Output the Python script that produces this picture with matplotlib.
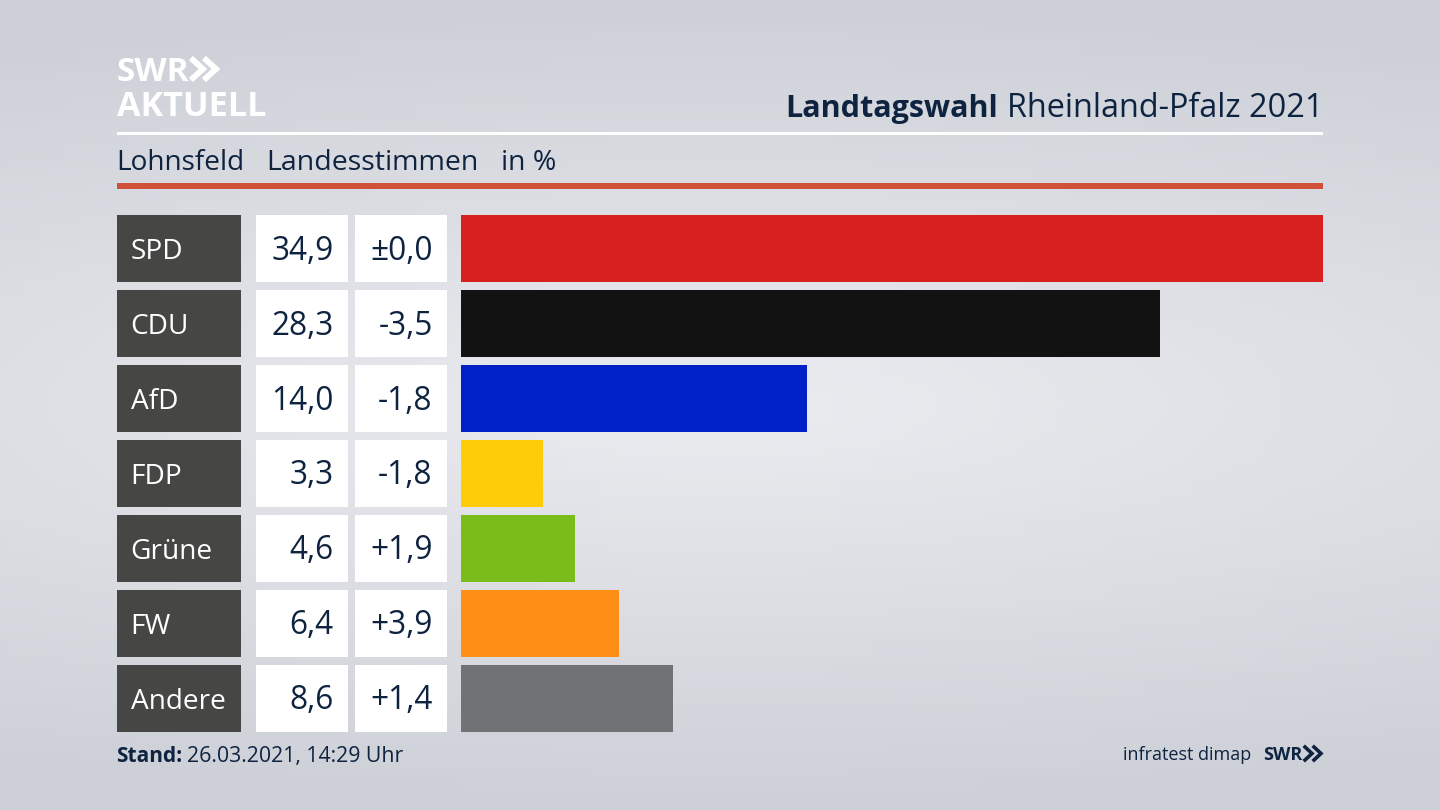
import matplotlib
matplotlib.use("Agg")
import matplotlib.pyplot as plt
from matplotlib.lines import Line2D
import numpy as np

# Datos
parteien = ["SPD", "CDU", "AfD", "FDP", "Grüne", "FW", "Andere"]
stimmen = [34.9, 28.3, 14.0, 3.3, 4.6, 6.4, 8.6]
stimmen_txt = ["34,9", "28,3", "14,0", "3,3", "4,6", "6,4", "8,6"]
diff_txt = ["±0,0", "-3,5", "-1,8", "-1,8", "+1,9", "+3,9", "+1,4"]
farben = ["#d7201f", "#121212", "#0020c8", "#ffcc08", "#7abd1a", "#ff8e14", "#717273"]

DUNKEL = "#0e2340"
W, H = 1440, 810
plt.rcParams["font.family"] = ["Open Sans", "DejaVu Sans"]


# Achse aus Pixelkoordinaten des Bildes
def achse(x0, y0, x1, y1):
    return fig.add_axes([x0 / W, 1 - y1 / H, (x1 - x0) / W, (y1 - y0) / H])


def txt(x, y, s, **kw):
    return fig.text(x / W, 1 - y / H, s, va="baseline", **kw)


# Doppelpfeil des Logos
def pfeile(x0, y0, y1, breite, abstand, farbe, lw):
    for k in range(2):
        x = x0 + k * abstand
        fig.add_artist(Line2D([x / W, (x + breite) / W, x / W],
                              [1 - y0 / H, 1 - (y0 + y1) / 2 / H, 1 - y1 / H],
                              color=farbe, lw=lw, solid_joinstyle="miter"))


def streifen(x0, y0, x1, y1, farbe):
    a = achse(x0, y0, x1, y1)
    a.set_facecolor(farbe)
    a.set_xticks([])
    a.set_yticks([])
    for s in a.spines.values():
        s.set_visible(False)


fig = plt.figure(figsize=(14.4, 8.1), dpi=100)

# Hintergrund mit Verlauf
bg = fig.add_axes([0, 0, 1, 1], zorder=-1)
yy, xx = np.mgrid[0:1:81j, 0:1:144j]
abstand = np.clip(np.sqrt(((xx - 0.5) / 1.1) ** 2 + ((yy - 0.5) / 0.5) ** 2), 0, 1)
rand = np.array([0xcd, 0xd0, 0xd7]) / 255
mitte = np.array([0xeb, 0xec, 0xf0]) / 255
bild = mitte + (rand - mitte) * abstand[..., None]
bg.imshow(bild, aspect="auto", extent=[0, 1, 0, 1])
bg.axis("off")

# Kopf
txt(117, 81, "SWR", color="white", fontsize=24, fontweight="bold")
pfeile(193, 60, 78, 10, 13, "white", 4.2)
txt(117, 116, "AKTUELL", color="white", fontsize=24.6, fontweight="bold")

t = fig.text(1323 / W, 1 - 117 / H, "Rheinland-Pfalz 2021", color=DUNKEL, fontsize=23.4,
             ha="right", va="baseline")
fig.canvas.draw()
links = t.get_window_extent().x0
fig.text((links - 9) / W, 1 - 117 / H, "Landtagswahl", color=DUNKEL, fontsize=22,
         fontweight="bold", ha="right", va="baseline")

txt(116, 170, "Lohnsfeld", color=DUNKEL, fontsize=20.2)
txt(266, 170, "Landesstimmen", color=DUNKEL, fontsize=20.5)
txt(501, 170, "in %", color=DUNKEL, fontsize=20.4)

streifen(117, 132, 1323, 135, "white")
streifen(117, 183, 1323, 189, "#cf5238")

# Balken und Tabellenspalten teilen dieselbe y-Skala
pos = np.arange(len(parteien))
hoehe = 0.887
oben_y, unten_y = 215, 731.5

ax_name = achse(117, oben_y, 241, unten_y)
ax_wert = achse(255.5, oben_y, 348, unten_y)
ax_diff = achse(354.5, oben_y, 447, unten_y)
ax_bar = achse(461, oben_y, 1323, unten_y)

ax_name.barh(pos, 1, height=hoehe, left=0, color="#464644")
ax_wert.barh(pos, 1, height=hoehe, left=0, color="white")
ax_diff.barh(pos, 1, height=hoehe, left=0, color="white")
ax_bar.barh(pos, stimmen, height=hoehe, color=farben)
ax_bar.set_xlim(0, 34.9)

for ax in [ax_name, ax_wert, ax_diff, ax_bar]:
    ax.set_ylim(len(parteien) - 1 + hoehe / 2, -hoehe / 2)
    ax.axis("off")
for ax in [ax_name, ax_wert, ax_diff]:
    ax.set_xlim(0, 1)

for i in pos:
    ax_name.text(0.11, i + 0.14, parteien[i], color="white", fontsize=20.2, va="baseline")
    ax_wert.text(0.845, i + 0.15, stimmen_txt[i], color=DUNKEL, fontsize=22.8, ha="right", va="baseline")
    ax_diff.text(0.845, i + 0.15, diff_txt[i], color=DUNKEL, fontsize=22.8, ha="right", va="baseline")

# Fuß
txt(116.5, 762, "Stand:", color=DUNKEL, fontsize=15, fontweight="bold")
txt(186.5, 762, "26.03.2021, 14:29 Uhr", color=DUNKEL, fontsize=15.3)
fig.text(1251 / W, 1 - 760 / H, "infratest dimap", color=DUNKEL, fontsize=13, ha="right", va="baseline")
txt(1263, 760, "SWR", color=DUNKEL, fontsize=13, fontweight="bold")
pfeile(1305, 747, 760, 7, 9, DUNKEL, 2.6)

fig.savefig("out.png", dpi=100)
